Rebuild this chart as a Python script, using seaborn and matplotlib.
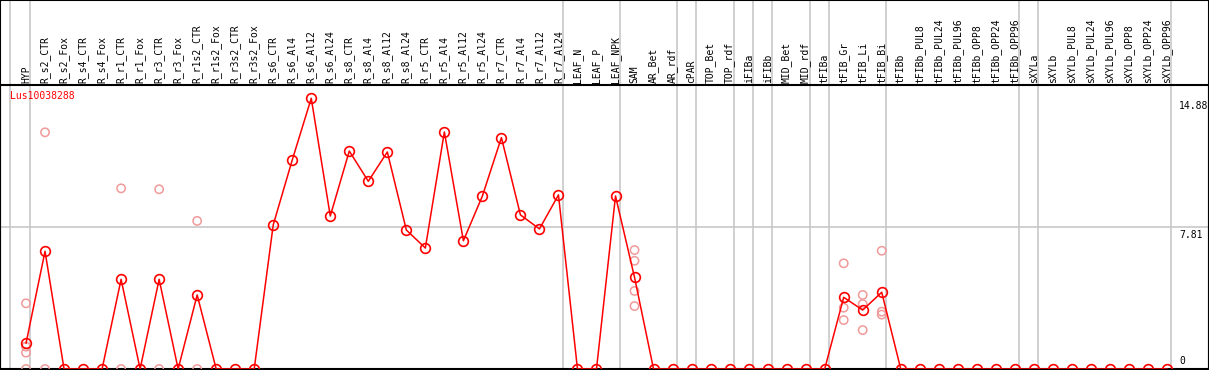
import numpy as np
import pandas as pd
import matplotlib
matplotlib.use("Agg")
import matplotlib.pyplot as plt
import matplotlib.transforms as mtransforms
from matplotlib.patches import Rectangle
import seaborn as sns

# columns of the expression chart
samples = ["HYP", "R_s2_CTR", "R_s2_Fox", "R_s4_CTR", "R_s4_Fox", "R_r1_CTR", "R_r1_Fox",
           "R_r3_CTR", "R_r3_Fox", "R_r1s2_CTR", "R_r1s2_Fox", "R_r3s2_CTR", "R_r3s2_Fox",
           "R_s6_CTR", "R_s6_Al4", "R_s6_Al12", "R_s6_Al24", "R_s8_CTR", "R_s8_Al4",
           "R_s8_Al12", "R_s8_Al24", "R_r5_CTR", "R_r5_Al4", "R_r5_Al12", "R_r5_Al24",
           "R_r7_CTR", "R_r7_Al4", "R_r7_Al12", "R_r7_Al24", "LEAF_N", "LEAF_P", "LEAF_NPK",
           "SAM", "AR_Bet", "AR_rdf", "cPAR", "TOP_Bet", "TOP_rdf", "iFIBa", "iFIBb",
           "MID_Bet", "MID_rdf", "tFIBa", "tFIB_Gr", "tFIB_Li", "tFIB_Bi", "tFIBb",
           "tFIBb_PUL8", "tFIBb_PUL24", "tFIBb_PUL96", "tFIBb_OPP8", "tFIBb_OPP24",
           "tFIBb_OPP96", "sXYLa", "sXYLb", "sXYLb_PUL8", "sXYLb_PUL24", "sXYLb_PUL96",
           "sXYLb_OPP8", "sXYLb_OPP24", "sXYLb_OPP96"]

# mean expression (red line)
mean_vals = [1.41, 6.47, 0, 0, 0, 4.93, 0, 4.93, 0, 4.07, 0, 0, 0,
             7.92, 11.49, 14.88, 8.41, 11.98, 10.32, 11.93, 7.64,
             6.65, 13.03, 7.05, 9.51, 12.72, 8.47, 7.70, 9.57,
             0, 0, 9.51, 5.04, 0, 0, 0, 0, 0, 0, 0, 0, 0, 0,
             3.94, 3.24, 4.22, 0, 0, 0, 0, 0, 0, 0, 0, 0, 0, 0, 0, 0, 0, 0]

# individual replicates (pink circles)
rep_samples = ["HYP", "HYP", "HYP", "HYP", "R_s2_CTR", "R_s2_CTR", "R_r1_CTR", "R_r1_CTR",
               "R_r3_CTR", "R_r3_CTR", "R_r1s2_CTR", "R_r1s2_CTR",
               "SAM", "SAM", "SAM", "SAM", "tFIB_Gr", "tFIB_Gr", "tFIB_Gr",
               "tFIB_Li", "tFIB_Li", "tFIB_Li", "tFIB_Bi", "tFIB_Bi", "tFIB_Bi"]
rep_vals = [3.61, 1.23, 0.90, 0, 13.01, 0, 9.93, 0, 9.88, 0, 8.14, 0,
            6.54, 5.95, 4.29, 3.46, 5.81, 3.37, 2.69, 4.07, 3.57, 2.14, 6.50, 3.15, 2.99]

# gray separators drawn after these samples
group_ends = ["HYP", "R_r7_Al24", "LEAF_NPK", "AR_rdf", "cPAR", "TOP_rdf", "iFIBa", "iFIBb",
              "MID_rdf", "tFIBa", "tFIB_Bi", "tFIBb_OPP96", "sXYLa", "sXYLb_OPP96"]

gene = "Lus10038288"
y_ticks = [14.88, 7.81]

pos = {s: i for i, s in enumerate(samples)}
df = pd.DataFrame({"x": np.arange(len(samples)), "y": mean_vals})
reps = pd.DataFrame({"x": [pos[s] for s in rep_samples], "y": rep_vals})

sns.set_style("white")
plt.rcParams["font.family"] = ["DejaVu Sans Mono"]

W, H = 1209, 370
fig = plt.figure(figsize=(W / 100, H / 100), dpi=100)
ax_top, ax_bot = 85, 369
ax = fig.add_axes([0, (H - ax_bot) / H, 1, (ax_bot - ax_top) / H])

x0, dx = 26, 19.0
ax.set_xlim(-x0 / dx, (W - 1 - x0) / dx)
k = (ax_bot - 98.3) / 14.88
ax.set_ylim(0, (ax_bot - ax_top) / k)

ext = (ax_bot - 0) / (ax_bot - ax_top)
ax.axvline(-0.84, 0, ext, color="#c8c8c8", lw=1.2, clip_on=False, zorder=0)
for s in group_ends:
    ax.axvline(pos[s] + 0.23, 0, ext, color="#c8c8c8", lw=1.2, clip_on=False, zorder=0)
ax.axhline(y_ticks[1], color="#c8c8c8", lw=1.2, zorder=0)

sns.scatterplot(data=reps, x="x", y="y", ax=ax, marker="o", s=36, facecolor="none",
                edgecolor="#f09a9a", linewidth=1.1, zorder=3, clip_on=False, legend=False)
sns.lineplot(data=df, x="x", y="y", ax=ax, sort=False, color="red", lw=1.1,
             marker="o", markersize=7, markerfacecolor="none", markeredgecolor="red",
             markeredgewidth=1.2, zorder=4, clip_on=False, errorbar=None)

ax.set_xticks([])
ax.set_yticks([])
ax.set_xlabel("")
ax.set_ylabel("")
for side in ["left", "right", "top", "bottom"]:
    ax.spines[side].set_visible(True)
    ax.spines[side].set_color("black")
    ax.spines[side].set_linewidth(1.5)

trans = mtransforms.blended_transform_factory(ax.transData, ax.transAxes)
off = 2 / (ax_bot - ax_top)
for s in samples:
    ax.text(pos[s], 1 + off, s, rotation=90, ha="center", va="bottom",
            fontsize=7.0, transform=trans, color="black")

ax.text(-16 / dx, 1 - 6 / (ax_bot - ax_top), gene, color="red", fontsize=7.0,
        ha="left", va="top", transform=trans)

xr = (1178 - x0) / dx
for v in y_ticks:
    ax.text(xr, v - 0.15, f"{v:.2f}", fontsize=7.0, ha="left", va="top", color="black")
ax.text(xr, 0.15, "0", fontsize=7.0, ha="left", va="bottom", color="black")

fig.patches.append(Rectangle((0, 0), 1, 1, fill=False, edgecolor="black", lw=1.5,
                             transform=fig.transFigure, figure=fig))

fig.savefig("out.png", dpi=100)
